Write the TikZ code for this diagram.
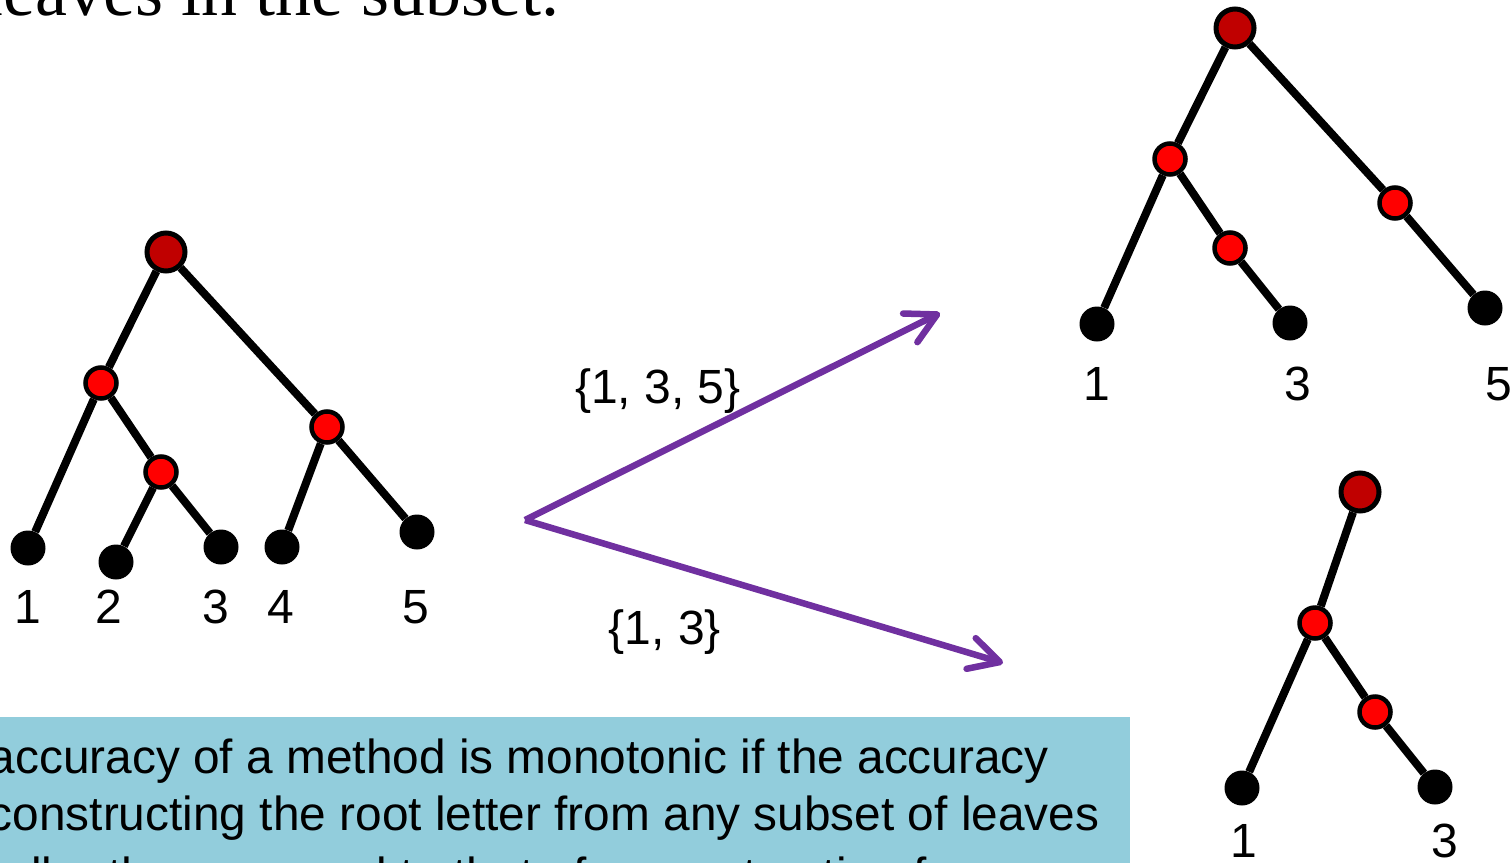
\documentclass[tikz,border=0pt]{standalone}
\usepackage{fontspec}
\setmainfont{Liberation Sans}
\newfontfamily\slideserif{Liberation Serif}
\usepackage{xcolor}
\usepackage{tikz}
\usetikzlibrary{arrows.meta,positioning}
\definecolor{rootred}{HTML}{C00000}
\definecolor{innerred}{HTML}{FF0000}
\definecolor{arrowpurple}{HTML}{7030A0}
\definecolor{noteblue}{HTML}{92CDDC}
\tikzset{
  treeroot/.style={
    circle, draw=black, line width=5pt, fill=rootred,
    minimum size=38pt, inner sep=0pt
  },
  treeinner/.style={treeroot, line width=4.5pt, fill=innerred, minimum size=31pt},
  treeleaf/.style={circle, fill=black, minimum size=35pt, inner sep=0pt},
  treeedge/.style={line width=8pt, draw=black},
  leaflabel/.style={font=\fontsize{48}{58}\selectfont, anchor=base, inner sep=0pt},
  subsetarrow/.style={
    line width=6.5pt, draw=arrowpurple,
    -{Straight Barb[length=30pt,width=32pt,round]}
  },
  notebox/.style={rectangle, fill=noteblue, inner sep=0pt, anchor=north east},
  notetext/.style={font=\fontsize{47.8}{57}\selectfont, anchor=base west, inner sep=0pt},
}

\begin{document}
\begin{tikzpicture}[x=1pt, y=-1pt]
  \useasboundingbox (0,0) rectangle (1511,862);
  \clip (0,0) rectangle (1511,862);

  \node (heading) [font=\slideserif\fontsize{72}{80}\selectfont, anchor=base east, inner sep=0pt]
    at (560,15) {leaves in the subset.};

  % full tree on five leaves
  \node (r0) [treeroot] at (166,252) {};
  \node (a0) [treeinner] at (101,383) {};
  \node (b0) [treeinner] at (161,472) {};
  \node (c0) [treeinner] at (327,427) {};
  \node (l01) [treeleaf] at (28,548) {};
  \node (l02) [treeleaf] at (116,562) {};
  \node (l03) [treeleaf] at (221,547) {};
  \node (l04) [treeleaf] at (282,547) {};
  \node (l05) [treeleaf] at (417,532) {};
  \draw[treeedge] (r0)--(a0); \draw[treeedge] (r0)--(c0); \draw[treeedge] (a0)--(l01);
  \draw[treeedge] (a0)--(b0); \draw[treeedge] (b0)--(l02); \draw[treeedge] (b0)--(l03);
  \draw[treeedge] (c0)--(l04); \draw[treeedge] (c0)--(l05);
  \node (t01) [leaflabel] at (28,623) {1};
  \node (t02) [leaflabel] at (109,623) {2};
  \node (t03) [leaflabel] at (216,623) {3};
  \node (t04) [leaflabel] at (281,623) {4};
  \node (t05) [leaflabel] at (416,623) {5};

  % restriction to {1,3,5}
  \node (r1) [treeroot] at (1235,28) {};
  \node (a1) [treeinner] at (1170,159) {};
  \node (b1) [treeinner] at (1230,248) {};
  \node (c1) [treeinner] at (1395,203) {};
  \node (l11) [treeleaf] at (1097,324) {};
  \node (l13) [treeleaf] at (1290,323) {};
  \node (l15) [treeleaf] at (1485,308) {};
  \draw[treeedge] (r1)--(a1); \draw[treeedge] (a1)--(l11); \draw[treeedge] (a1)--(b1);
  \draw[treeedge] (b1)--(l13); \draw[treeedge] (r1)--(c1); \draw[treeedge] (c1)--(l15);
  \node (t11) [leaflabel] at (1097,400) {1};
  \node (t13) [leaflabel] at (1298,400) {3};
  \node (t15) [leaflabel] at (1499,400) {5};

  % restriction to {1,3}
  \node (r2) [treeroot] at (1360,492) {};
  \node (a2) [treeinner] at (1315,623) {};
  \node (b2) [treeinner] at (1375,712) {};
  \node (l21) [treeleaf] at (1242,788) {};
  \node (l23) [treeleaf] at (1435,787) {};
  \draw[treeedge] (r2)--(a2); \draw[treeedge] (a2)--(l21); \draw[treeedge] (a2)--(b2);
  \draw[treeedge] (b2)--(l23);
  \node (t21) [leaflabel] at (1244,857) {1};
  \node (t23) [leaflabel] at (1445,857) {3};

  % subset arrows
  \coordinate (fork) at (525,520);
  \coordinate (upend) at (940,313);
  \coordinate (downend) at (1003,663);
  \draw[subsetarrow] (fork)--(upend);
  \draw[subsetarrow] (fork)--(downend);
  \node (set135) [leaflabel] at (658,403) {\{1, 3, 5\}};
  \node (set13) [leaflabel] at (665,644) {\{1, 3\}};

  % definition box
  \node (note) [notebox, minimum width=1250pt, minimum height=200pt] at (1130,717) {};
  \node (noteA) [notetext] at (-107,773) {The accuracy of a method is monotonic if the accuracy};
  \node (noteB) [notetext] at (-107,830) {of reconstructing the root letter from any subset of leaves};
  \node (noteC) [notetext] at (-107,891) {is smaller than or equal to that of reconstruction from};
\end{tikzpicture}
\end{document}
